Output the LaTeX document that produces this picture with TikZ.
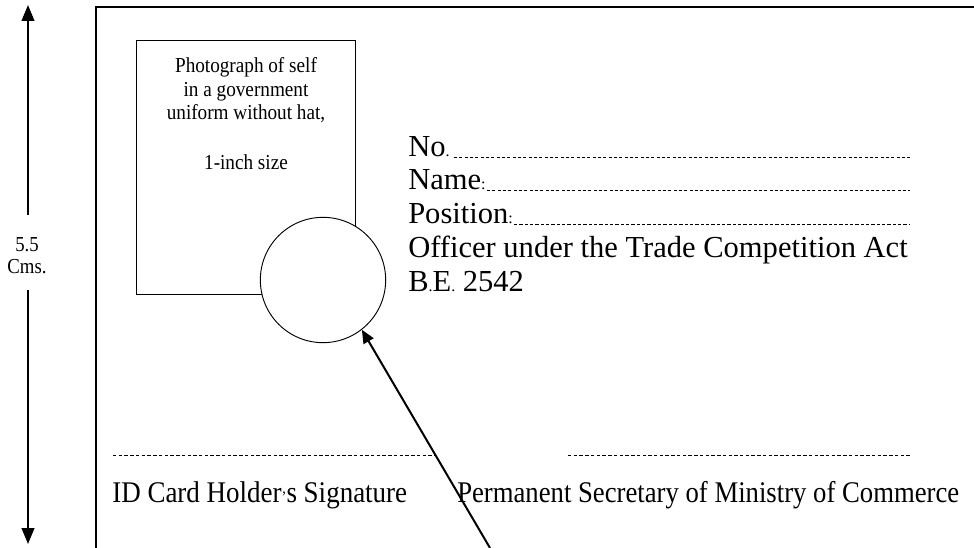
\documentclass[tikz,border=0pt]{standalone}
\usepackage{fontspec}
\setmainfont{Liberation Serif}
\usetikzlibrary{arrows.meta,calc}
\newcommand\punct[1]{{\fontsize{12}{14}\selectfont #1}}
\tikzset{
  px/.style={x=0.75pt,y=-0.75pt},
  field/.style={font=\fontsize{22.9}{26}\selectfont, inner sep=0pt, anchor=base west},
  fillin/.style={line width=0.6pt, dash pattern=on 2.4pt off 1.6pt},
  sigline/.style={line width=0.6pt, dash pattern=on 2.6pt off 1.7pt},
  smalltext/.style={font=\fontsize{16}{17.5}\selectfont, inner sep=0pt, anchor=base},
  sigtext/.style={font=\fontsize{22.5}{26}\selectfont, inner sep=0pt, anchor=base west},
  cardedge/.style={line width=1.2pt},
  thinbox/.style={draw, line width=0.7pt, inner sep=0pt},
  dimarrow/.style={line width=1.6pt, -{Triangle[width=9.5pt,length=12pt]}},
  pointer/.style={line width=1.5pt, -{Triangle[width=8.5pt,length=10pt]}},
}
\begin{document}
\begin{tikzpicture}[px]
\useasboundingbox (0,0) rectangle (974,548);
% card outline
\draw[cardedge] (96,560) -- (96,7) -- (990,7);
% height dimension
\node[smalltext] (dimlabel) at (27,252)
  {\scalebox{0.88}[1]{\begin{tabular}[t]{@{}c@{}}5.5\\[-1.5pt]Cms.\end{tabular}}};
\coordinate (dimtop) at (28,5);
\coordinate (dimbot) at (28,544);
\coordinate (dimup) at (28,215);
\coordinate (dimdn) at (28,290);
\draw[dimarrow] (dimup) -- (dimtop);
\draw[dimarrow] (dimdn) -- (dimbot);
% photo box
\node[thinbox, minimum width=164pt, minimum height=190pt] (photo) at (246,167.4) {};
\node[smalltext] (phototext) at (246,73)
  {\scalebox{0.9}[1]{\begin{tabular}[t]{@{}c@{}}Photograph of self\\in a government\\uniform without hat,\\[20pt]1-inch size\end{tabular}}};
% seal circle
\node[circle, draw, fill=white, line width=0.7pt, minimum size=94pt, inner sep=0pt] (seal) at (323,280) {};
% fields
\coordinate (fieldend) at (910,0);
\node[field] (no) at (408,157) {No\punct{.}};
\node[field] (name) at (408,190) {Name\punct{:}};
\node[field] (pos) at (408,224) {Position\punct{:}};
\node[field] (officer) at (408,258) {Officer under the Trade Competition Act};
\node[field] (be) at (408,292) {B\punct{.}E\punct{.} 2542};
\draw[fillin] ($(no.base east)+(4,0)$) -- (no.base east -| fieldend);
\draw[fillin] ($(name.base east)+(1,0)$) -- (name.base east -| fieldend);
\draw[fillin] ($(pos.base east)+(1,0)$) -- (pos.base east -| fieldend);
% signature lines
\coordinate (sigAa) at (113,455);
\coordinate (sigAb) at (435,455);
\coordinate (sigBa) at (568,455);
\coordinate (sigBb) at (910,455);
\draw[sigline] (sigAa) -- (sigAb);
\draw[sigline] (sigBa) -- (sigBb);
\node[sigtext] (holder) at (112,502) {\scalebox{0.9}[1]{ID Card Holder\punct{’}s Signature}};
\node[sigtext] (secretary) at (457,502) {\scalebox{0.89}[1]{Permanent Secretary of Ministry of Commerce}};
% pointer arrow
\coordinate (foot) at (490,548);
\draw[pointer] (foot) -- (seal.308);
\end{tikzpicture}
\end{document}
